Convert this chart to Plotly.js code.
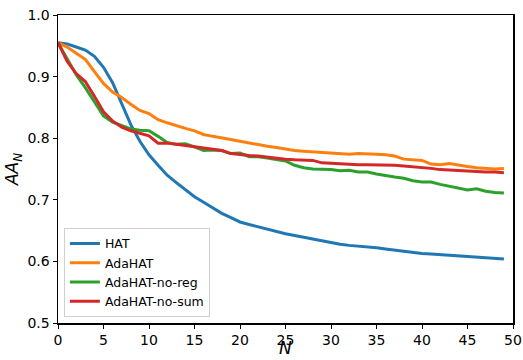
<!DOCTYPE html>
<html>
<head>
<meta charset="utf-8">
<script src="https://cdn.plot.ly/plotly-3.0.1.min.js"></script>
<style>html,body{margin:0;padding:0;background:#fff;}#chart{width:523px;height:360px;}</style>
</head>
<body>
<div id="chart"></div>
<script>
const N = Array.from({length: 50}, (_, i) => i);
const seriesNames = ["HAT", "AdaHAT", "AdaHAT-no-reg", "AdaHAT-no-sum"];
const hat = [0.955,0.953,0.948,0.943,0.933,0.915,0.890,0.855,0.822,0.795,
  0.773,0.756,0.740,0.728,0.716,0.705,0.696,0.687,0.678,0.671,
  0.664,0.660,0.656,0.652,0.648,0.645,0.642,0.639,0.636,0.633,
  0.630,0.628,0.626,0.625,0.623,0.622,0.620,0.618,0.616,0.615,
  0.613,0.612,0.611,0.610,0.609,0.608,0.607,0.606,0.605,0.604];
const adahat = [0.955,0.948,0.938,0.928,0.908,0.889,0.875,0.866,0.855,0.845,
  0.840,0.830,0.825,0.820,0.816,0.812,0.806,0.803,0.801,0.798,
  0.795,0.792,0.790,0.787,0.785,0.782,0.780,0.779,0.778,0.777,
  0.776,0.775,0.774,0.775,0.775,0.774,0.773,0.771,0.766,0.765,
  0.764,0.758,0.757,0.759,0.756,0.754,0.752,0.751,0.750,0.751];
const noReg = [0.955,0.930,0.903,0.882,0.860,0.836,0.826,0.820,0.815,0.813,
  0.812,0.803,0.793,0.790,0.791,0.786,0.780,0.781,0.780,0.775,
  0.776,0.770,0.770,0.768,0.766,0.763,0.756,0.752,0.750,0.750,
  0.749,0.747,0.748,0.745,0.745,0.742,0.739,0.737,0.735,0.731,
  0.729,0.729,0.725,0.722,0.719,0.716,0.718,0.714,0.712,0.711];
const noSum = [0.955,0.925,0.905,0.892,0.868,0.843,0.828,0.818,0.812,0.808,
  0.804,0.792,0.792,0.790,0.788,0.786,0.784,0.782,0.780,0.775,
  0.773,0.772,0.771,0.769,0.767,0.766,0.765,0.765,0.764,0.760,
  0.759,0.758,0.758,0.757,0.757,0.757,0.757,0.756,0.755,0.754,
  0.753,0.751,0.749,0.748,0.747,0.746,0.746,0.745,0.745,0.744];
const xTicks = [0,5,10,15,20,25,30,35,40,45,50];
const yTicks = [0.5,0.6,0.7,0.8,0.9,1.0];
const colors = ["#1f77b4", "#ff7f0e", "#2ca02c", "#d62728"];
const values = [hat, adahat, noReg, noSum];

const traces = values.map((v, i) => ({
  x: N, y: v, type: "scatter", mode: "lines", name: seriesNames[i],
  line: {color: colors[i], width: 3}
}));

const ff = "DejaVu Sans, sans-serif";
const layout = {
  width: 523, height: 360,
  margin: {l: 58, r: 10, t: 15, b: 37},
  paper_bgcolor: "#fff", plot_bgcolor: "#fff",
  font: {family: ff, size: 14, color: "#000"},
  showlegend: true,
  legend: {x: 0.013, y: 0.02, xanchor: "left", yanchor: "bottom",
    bordercolor: "#d0d0d0", borderwidth: 1, bgcolor: "rgba(255,255,255,0.8)",
    font: {family: ff, size: 12.5, color: "#000"},
    tracegroupgap: 0},
  xaxis: {range: [0, 50], tickvals: xTicks, ticktext: xTicks.map(String),
    showgrid: false, zeroline: false, showline: true, linecolor: "#000", linewidth: 1.5,
    mirror: true, ticks: "outside", ticklen: 4, tickwidth: 1, tickcolor: "#000",
    tickfont: {family: ff, size: 14, color: "#000"}, automargin: false},
  yaxis: {range: [0.5, 1.0], tickvals: yTicks, ticktext: yTicks.map(v => v.toFixed(1)),
    showgrid: false, zeroline: false, showline: true, linecolor: "#000", linewidth: 1.5,
    mirror: true, ticks: "outside", ticklen: 4, tickwidth: 1, tickcolor: "#000",
    tickfont: {family: ff, size: 14, color: "#000"}, automargin: false,
    title: {text: "<i>AA</i><sub><i>N</i></sub>", font: {family: ff, size: 17}, standoff: 4}},
  annotations: [{text: "<i>N</i>", xref: "paper", yref: "paper", x: 0.5, y: -0.118,
    xanchor: "center", yanchor: "bottom", showarrow: false, borderpad: 0,
    font: {family: ff, size: 17, color: "#000"}}]
};
Plotly.newPlot("chart", traces, layout, {displayModeBar: false, staticPlot: true});
</script>
</body>
</html>
